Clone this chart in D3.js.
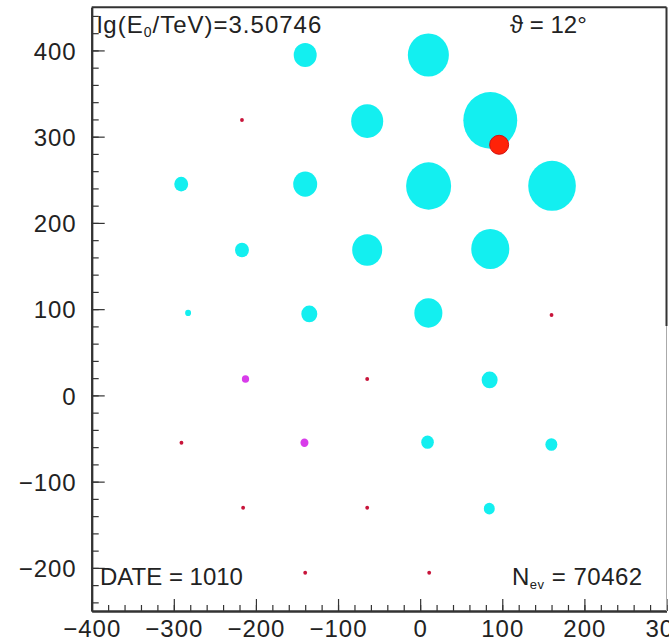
<!DOCTYPE html>
<html>
<head>
<meta charset="utf-8">
<script src="https://cdn.jsdelivr.net/npm/d3@7"></script>
<style>
  body { margin: 0; background: #fff; }
  svg { display: block; }
  text { font-family: "Liberation Sans", Arial, sans-serif; fill: #222; }
</style>
</head>
<body>
<svg id="chart" width="669" height="641"></svg>
<script>
// Detector stations (metres) and the particle density recorded at each
const stationX = [-140, 10, -217, -64.5, 85.4, -291, -140, 10.3, 160.6, -217, -64.5, 85.4,
                  -282.6, -135, 10, 160, -212.7, -64.5, 84.6, -290.7, -140.9, 9, 159.8,
                  -215.6, -64.5, 84.2, -140, 11];
const stationY = [394.7, 394.7, 319.3, 318, 318.9, 245, 245, 242.8, 243, 168.6, 168.6, 169.8,
                  95.6, 94.4, 95.6, 93.2, 19, 19, 17.9, -54.8, -54.8, -54.3, -57,
                  -130.2, -130.2, -131.3, -205.7, -205.7];
const density  = [180, 574, 5, 349, 990, 66, 196, 690, 772, 66, 307, 494,
                  12, 87, 268, 5, 18, 5, 87, 5, 22, 54, 49,
                  5, 5, 41, 5, 5];
const stationType = ["hit", "hit", "empty", "hit", "hit", "hit", "hit", "hit", "hit", "hit", "hit", "hit",
                     "hit", "hit", "hit", "empty", "weak", "empty", "hit", "empty", "weak", "hit", "hit",
                     "empty", "empty", "hit", "empty", "empty"];

// Reconstructed shower core
const coreX = [96.2];
const coreY = [290.6];

// Axis ticks
const xTicks = [-400, -300, -200, -100, 0, 100, 200, 300];
const yTicks = [-200, -100, 0, 100, 200, 300, 400];
const xMinorTicks = d3.range(-400, 301, 20);
const yMinorTicks = d3.range(-240, 451, 20);

// Event information
const energyValue = "3.50746";
const thetaValue = "12";
const dateValue = "1010";
const eventCount = "70462";

const svg = d3.select("#chart");

const x = d3.scaleLinear().domain([-400, 300]).range([91.7, 666.5]);
const y = d3.scaleLinear().domain([-250, 450]).range([611, 7.3]);
// marker radius in metres, proportional to sqrt(density)
const r = d3.scaleSqrt().domain([0, 1000]).range([0, 33]);

const colour = d3.scaleOrdinal()
  .domain(["hit", "weak", "empty"])
  .range(["#13eff0", "#d83cea", "#c8143a"]);

const stations = stationX.map((sx, i) => ({
  x: sx, y: stationY[i], n: density[i], type: stationType[i]
}));

// stations
svg.append("g")
  .selectAll("ellipse")
  .data(stations)
  .join("ellipse")
  .attr("cx", d => x(d.x))
  .attr("cy", d => y(d.y))
  .attr("rx", d => x(r(d.n)) - x(0))
  .attr("ry", d => y(0) - y(r(d.n)))
  .attr("fill", d => colour(d.type));

// shower core
svg.append("g")
  .selectAll("circle")
  .data(coreX.map((cx, i) => ({ x: cx, y: coreY[i] })))
  .join("circle")
  .attr("cx", d => x(d.x))
  .attr("cy", d => y(d.y))
  .attr("r", 9.5)
  .attr("fill", "#ff2208")
  .attr("stroke", "#d01010")
  .attr("stroke-width", 1);

// axes, ticks pointing into the frame
const axisColour = "#333";
const fontSize = 24;
const signed = d => d < 0 ? "\u2212" + Math.abs(d) : d;

const yAxis = svg.append("g")
  .attr("transform", `translate(${x(-400)},0)`)
  .call(d3.axisLeft(y).tickValues(yTicks).tickSizeInner(-13).tickSizeOuter(0)
    .tickPadding(15).tickFormat(signed));
const yMinor = svg.append("g")
  .attr("transform", `translate(${x(-400)},0)`)
  .call(d3.axisLeft(y).tickValues(yMinorTicks).tickSizeInner(-7).tickSizeOuter(0).tickFormat(""));

const xAxis = svg.append("g")
  .attr("transform", `translate(0,${y(-250)})`)
  .call(d3.axisBottom(x).tickValues(xTicks).tickSizeInner(-12).tickSizeOuter(0)
    .tickPadding(9).tickFormat(signed));
const xMinor = svg.append("g")
  .attr("transform", `translate(0,${y(-250)})`)
  .call(d3.axisBottom(x).tickValues(xMinorTicks).tickSizeInner(-6).tickSizeOuter(0).tickFormat(""));

[yAxis, yMinor, xAxis, xMinor].forEach(g => {
  g.select(".domain").attr("stroke", axisColour).attr("stroke-width", 2);
  g.selectAll(".tick line").attr("stroke", axisColour).attr("stroke-width", 1.2);
  g.selectAll(".tick text")
    .attr("font-family", "Liberation Sans, Arial, sans-serif")
    .attr("font-size", fontSize)
    .attr("letter-spacing", 1)
    .attr("fill", "#222");
});
yAxis.selectAll(".tick text").attr("dy", "0.36em");
xAxis.selectAll(".tick text").attr("dy", "0.71em");

// frame: top and right edges
svg.append("line")
  .attr("x1", x(-400)).attr("x2", x(300))
  .attr("y1", y(450)).attr("y2", y(450))
  .attr("stroke", axisColour).attr("stroke-width", 2);
svg.append("line")
  .attr("x1", x(300)).attr("x2", x(300))
  .attr("y1", y(450)).attr("y2", 326)
  .attr("stroke", axisColour).attr("stroke-width", 2);
svg.append("line")
  .attr("x1", x(300)).attr("x2", x(300))
  .attr("y1", 326).attr("y2", y(-250))
  .attr("stroke", "#aaa").attr("stroke-width", 1);

// event labels
const title = svg.append("text")
  .attr("x", 97).attr("y", 33)
  .attr("font-size", fontSize)
  .attr("letter-spacing", 1);
title.append("tspan").text("lg(E");
title.append("tspan").attr("font-size", 14).attr("dy", 4).text("0");
title.append("tspan").attr("dy", -4).text("/TeV)=" + energyValue);

svg.append("text")
  .attr("x", 510).attr("y", 33)
  .attr("font-size", fontSize)
  .text("\u03D1 = " + thetaValue + "\u00B0");

svg.append("text")
  .attr("x", 100).attr("y", 585)
  .attr("font-size", fontSize)
  .text("DATE = " + dateValue);

const nev = svg.append("text")
  .attr("x", 512).attr("y", 585)
  .attr("font-size", fontSize)
  .attr("letter-spacing", 0.5);
nev.append("tspan").text("N");
nev.append("tspan").attr("font-size", 13).attr("dy", 4).text("ev");
nev.append("tspan").attr("dy", -4).text(" = " + eventCount);
</script>
</body>
</html>
